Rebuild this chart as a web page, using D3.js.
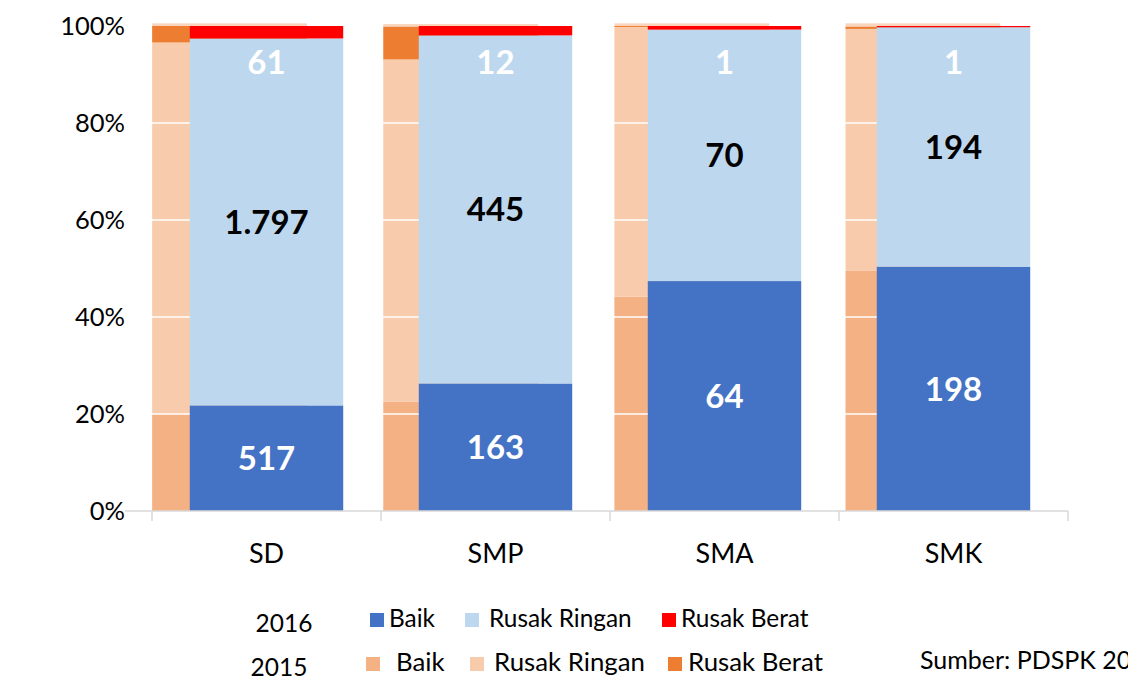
<!DOCTYPE html>
<html>
<head>
<meta charset="utf-8">
<script src="https://cdn.jsdelivr.net/npm/d3@7"></script>
<style>
  html, body { margin: 0; padding: 0; background: #fff; }
  svg { display: block; font-family: Lato, "Open Sans", sans-serif; }
</style>
</head>
<body>
<div id="chart"></div>
<script>
const width = 1128;
const height = 685;

const categories = ["SD", "SMP", "SMA", "SMK"];

// 2016, jumlah sekolah
const baik2016 = [517, 163, 64, 198];
const ringan2016 = [1797, 445, 70, 194];
const berat2016 = [61, 12, 1, 1];

// 2015, persen
const baik2015 = [20.0, 22.5, 44.2, 49.5];
const ringan2015 = [76.6, 70.6, 55.6, 49.9];
const berat2015 = [3.4, 6.8, 0.2, 0.5];
const sisa2015 = [0.55, 0.5, 0.55, 0.65];

const yTicks = [0, 20, 40, 60, 80, 100];

const margin = { top: 26, right: 60, bottom: 174, left: 152 };

const colors2016 = ["#4472C4", "#BDD7EE", "#FF0000"];
const colors2015 = ["#F4B183", "#F8CBAD", "#ED7D31", "#F9D5BE"];

const idLocale = d3.formatLocale({ decimal: ",", thousands: ".", grouping: [3], currency: ["Rp", ""] });
const fmt = idLocale.format(",d");

const svg = d3.select("#chart")
    .append("svg")
    .attr("width", width)
    .attr("height", height);

const y = d3.scaleLinear()
    .domain([0, 100])
    .range([height - margin.bottom, margin.top]);

const x2016 = d3.scaleBand()
    .domain(categories)
    .range([margin.left, width - margin.right])
    .paddingInner(0.33)
    .paddingOuter(0.165);

// the 2015 chart sits a little to the left, behind the 2016 bars
const x2015 = d3.scaleBand()
    .domain(categories)
    .range([margin.left - 38, width - margin.right - 29.5])
    .paddingInner(0.33)
    .paddingOuter(0.165);

// stacked rows
const rows2015 = categories.map((c, i) => ({
    cat: c, baik: baik2015[i], ringan: ringan2015[i], berat: berat2015[i], sisa: sisa2015[i]
}));
const rows2016 = categories.map((c, i) => {
    const total = baik2016[i] + ringan2016[i] + berat2016[i];
    return {
        cat: c,
        baik: baik2016[i] / total * 100,
        ringan: ringan2016[i] / total * 100,
        berat: berat2016[i] / total * 100,
        n: [baik2016[i], ringan2016[i], berat2016[i]]
    };
});

const stack2015 = d3.stack().keys(["baik", "ringan", "berat", "sisa"])(rows2015);
const stack2016 = d3.stack().keys(["baik", "ringan", "berat"])(rows2016);

// 2015 bars
svg.append("g")
    .selectAll("g")
    .data(stack2015)
    .join("g")
    .attr("fill", (d, i) => colors2015[i])
    .selectAll("rect")
    .data(d => d)
    .join("rect")
    .attr("x", d => x2015(d.data.cat))
    .attr("width", x2015.bandwidth())
    .attr("y", d => y(d[1]))
    .attr("height", d => y(d[0]) - y(d[1]));

// white gridlines over the 2015 bars
svg.append("g")
    .selectAll("line")
    .data(yTicks.filter(t => t > 0 && t < 100))
    .join("line")
    .attr("x1", margin.left)
    .attr("x2", width - margin.right)
    .attr("y1", d => y(d))
    .attr("y2", d => y(d))
    .attr("stroke", "#fff")
    .attr("stroke-width", 1.5);

// 2016 bars
svg.append("g")
    .selectAll("g")
    .data(stack2016)
    .join("g")
    .attr("fill", (d, i) => colors2016[i])
    .selectAll("rect")
    .data(d => d)
    .join("rect")
    .attr("x", d => x2016(d.data.cat))
    .attr("width", x2016.bandwidth())
    .attr("y", d => y(d[1]))
    .attr("height", d => y(d[0]) - y(d[1]));

// value labels
const labels = svg.append("g")
    .attr("font-weight", "bold")
    .attr("font-size", 33)
    .attr("text-anchor", "middle");

rows2016.forEach((r, i) => {
    const cx = x2016(r.cat) + x2016.bandwidth() / 2;
    labels.append("text")
        .attr("x", cx)
        .attr("y", (y(0) + y(r.baik)) / 2)
        .attr("dy", "0.36em")
        .attr("fill", "#fff")
        .text(fmt(r.n[0]));
    labels.append("text")
        .attr("x", cx)
        .attr("y", (y(r.baik) + y(r.baik + r.ringan)) / 2)
        .attr("dy", "0.36em")
        .attr("fill", "#000")
        .text(fmt(r.n[1]));
    labels.append("text")
        .attr("x", cx)
        .attr("y", y(100) + 36)
        .attr("dy", "0.36em")
        .attr("fill", "#fff")
        .text(fmt(r.n[2]));
});

// x axis
const xAxis = svg.append("g");
xAxis.append("line")
    .attr("x1", margin.left - 27)
    .attr("x2", width - margin.right)
    .attr("y1", y(0))
    .attr("y2", y(0))
    .attr("stroke", "#d9d9d9")
    .attr("stroke-width", 1.5);

const step = x2016.step();
const bounds = d3.range(categories.length + 1).map(i => margin.left + i * step);
xAxis.selectAll("line.tick")
    .data(bounds)
    .join("line")
    .attr("class", "tick")
    .attr("x1", d => d)
    .attr("x2", d => d)
    .attr("y1", y(0))
    .attr("y2", y(0) + 10)
    .attr("stroke", "#d9d9d9")
    .attr("stroke-width", 1.5);

xAxis.selectAll("text")
    .data(categories)
    .join("text")
    .attr("x", d => x2016(d) + x2016.bandwidth() / 2)
    .attr("y", y(0) + 42)
    .attr("dy", "0.36em")
    .attr("text-anchor", "middle")
    .attr("font-size", 27)
    .attr("fill", "#000")
    .text(d => d);

// y axis labels
svg.append("g")
    .selectAll("text")
    .data(yTicks)
    .join("text")
    .attr("x", margin.left - 27)
    .attr("y", d => y(d))
    .attr("dy", "0.36em")
    .attr("text-anchor", "end")
    .attr("font-size", 25.5)
    .attr("fill", "#000")
    .text(d => d + "%");

// legend
const legendRows = [
    { year: "2016", yy: 620, yearX: 284, fs: 24.4, colors: colors2016, sq: [370, 465, 662], tx: [389, 489, 681] },
    { year: "2015", yy: 664, yearX: 279, fs: 25.8, colors: colors2015, sq: [366, 470, 668], tx: [396, 494, 688] }
];
const legendNames = ["Baik", "Rusak Ringan", "Rusak Berat"];

const legend = svg.append("g").attr("fill", "#000");
legendRows.forEach(row => {
    legend.append("text")
        .attr("x", row.yearX)
        .attr("y", row.yy + 3)
        .attr("dy", "0.36em")
        .attr("text-anchor", "middle")
        .attr("font-size", 24.5)
        .text(row.year);
    legendNames.forEach((name, i) => {
        legend.append("rect")
            .attr("x", row.sq[i])
            .attr("y", row.yy - 7)
            .attr("width", 14)
            .attr("height", 14)
            .attr("fill", row.colors[i]);
        legend.append("text")
            .attr("x", row.tx[i])
            .attr("y", row.yy - 2)
            .attr("dy", "0.36em")
            .attr("font-size", row.fs)
            .text(name);
    });
});

svg.append("text")
    .attr("x", 920)
    .attr("y", 660)
    .attr("dy", "0.36em")
    .attr("font-size", 25)
    .attr("fill", "#000")
    .text("Sumber: PDSPK 2016");
</script>
</body>
</html>
